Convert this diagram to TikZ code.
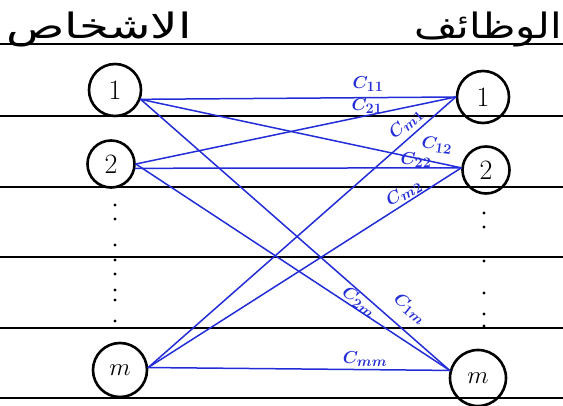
\documentclass[tikz,border=0pt]{standalone}
\usepackage{fontspec}
\usepackage{tikz}
\usetikzlibrary{positioning}
\newfontfamily\arabicfont[Script=Arabic]{DejaVu Sans}
\TeXXeTstate=1
\definecolor{ink}{RGB}{35,45,215}
\newcommand{\cst}[1]{$C_{\mbox{\fontsize{14}{14}\selectfont$#1$}}$}

\begin{document}
\begin{tikzpicture}[x=1pt, y=-1pt, line cap=round]
    \tikzstyle{vertex} = [draw, circle, line width=2.6pt, minimum size=52pt, inner sep=0pt, font=\fontsize{28}{30}\selectfont]
    \tikzstyle{cost} = [text=ink, inner sep=0pt, font=\fontsize{19}{21}\selectfont\boldmath]
    \tikzstyle{edge} = [draw=ink, line width=1.5pt]
    \tikzstyle{paperline} = [line width=1.8pt]
    \tikzstyle{title} = [anchor=base, transform shape, font=\arabicfont\fontsize{35}{37}\selectfont]
    \useasboundingbox (0,0) rectangle (563,406);
    % ruled paper
    \foreach \y in {44, 116, 187, 257, 328, 398}
        \draw[paperline] (0,\y) -- (563,\y);
    % column titles
    \node [title, xscale=1.38] at (99,39) (persons) {\beginR الاشخاص\endR};
    \node [title, xscale=1.2] at (488,39) (jobs) {\beginR الوظائف\endR};
    % persons
    \node [vertex] at (115,90) (p1) {1};
    \node [vertex, minimum size=47pt] at (111,164) (p2) {2};
    \node [vertex, minimum size=54pt] at (120,370) (pm) {$m$};
    % jobs
    \node [vertex] at (483,97) (j1) {1};
    \node [vertex, minimum size=47pt] at (486,170) (j2) {2};
    \node [vertex, minimum size=56pt] at (478,378) (jm) {$m$};
    \foreach \y in {205, 219, 245, 260, 274, 290, 300, 321}
        \fill (115,\y) circle (1.7pt);
    \foreach \y in {213, 227, 261, 293, 314, 326}
        \fill (484,\y) circle (1.7pt);
    % assignments
    \draw[edge] (p1.-20) -- (j1.west);
    \draw[edge] (p1.-20) -- (j2.175);
    \draw[edge] (p1.-20) -- (jm.165);
    \draw[edge] (p2.east) -- (j1.west);
    \draw[edge] (p2.-10) -- (j2.175);
    \draw[edge] (p2.east) -- (jm.165);
    \draw[edge] (pm.5) -- (j1.west);
    \draw[edge] (pm.5) -- (j2.175);
    \draw[edge] (pm.5) -- (jm.165);
    % costs
    \node [cost] at (368,84) (c11) {\cst{11}};
    \node [cost] at (367,106) (c21) {\cst{21}};
    \node [cost, rotate=41] at (406,124) (cm1) {\cst{m1}};
    \node [cost, rotate=-8] at (437,145) (c12) {\cst{12}};
    \node [cost] at (416,160) (c22) {\cst{22}};
    \node [cost, rotate=30] at (404,193) (cm2) {\cst{m2}};
    \node [cost, rotate=-35] at (359,302) (c2m) {\cst{2m}};
    \node [cost, rotate=-40] at (410,309) (c1m) {\cst{1m}};
    \node [cost] at (365,359) (cmm) {\cst{mm}};
\end{tikzpicture}
\end{document}
